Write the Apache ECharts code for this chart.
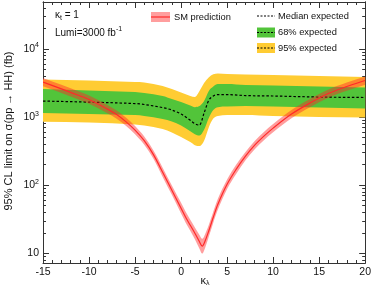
<!DOCTYPE html>
<html><head><meta charset="utf-8">
<script src="https://cdn.jsdelivr.net/npm/echarts@6/dist/echarts.min.js"></script>
<style>html,body{margin:0;padding:0;background:#fff}#c{width:374px;height:292px}</style>
</head><body><div id="c"></div>
<script>
const FONT = '"Liberation Sans", Arial, Helvetica, sans-serif';

// Expected limits (fb) vs kappa_lambda
const kl = [-15,-10,-5,-4,-2,-1,0,1,1.5,2,2.5,3,3.5,4,5,7,10,15,20];
const medianExp = [1720,1660,1580,1530,1380,1270,1110,900,800,763,1145,1750,2040,2140,2140,2070,2040,1970,1940];
const exp68Up   = [2580,2450,2330,2250,2040,1840,1660,1480,1400,1450,1720,2400,2810,3060,3060,2960,2900,2810,2720];
const exp68Dn   = [1145,1107,1070,1035,935,859,750,622,562,535,650,960,1270,1400,1426,1452,1426,1380,1334];
const exp95Up   = [3560,3440,3270,3220,2860,2580,2290,2040,1970,2410,3160,3810,4250,4360,4290,4210,4150,4010,3870];
const exp95Dn   = [853,830,776,750,667,592,508,429,387,375,450,700,950,1035,1070,1070,1035,1000,984];

// SM prediction (fb) vs kappa_lambda, with its uncertainty band
const klSM   = [-15,-13,-12,-10,-8,-7,-6,-5,-4,-3,-2,-1,0,0.5,1,1.5,2,2.3,2.6,3,3.5,4,5,6,7,8,9,10,12,14,16,18,20];
const smPred = [3270,2600,2310,1810,1310,1090,859,644,451,281,155,84.4,45.9,33.8,25.8,19.7,14.8,12.7,15.0,21.1,33.8,52.5,103,172,267,387,525,689,1107,1607,2216,2809,3443];
const smUp   = [3760,2990,2660,2080,1510,1250,988,741,519,323,181,98.7,55.1,40.6,31,24,18.6,16.3,18.9,25.7,40.6,63,121,201,307,445,604,792,1273,1848,2548,3230,3960];
const smDn   = [2840,2260,2010,1570,1140,948,747,560,392,244,132,72.1,38.3,28.2,21.5,16.1,11.7,9.9,11.9,17.3,28.2,43.8,88,147,232,337,457,599,963,1397,1927,2443,2994];

// Axis ticks
const yMajor = [10,100,1000,10000];
const yMinor = [8,9,20,30,40,50,60,70,80,90,200,300,400,500,600,700,800,900,2000,3000,4000,5000,6000,7000,8000,9000,20000,30000,40000];

const YELLOW = '#ffcc33', GREEN = '#52c43a', PINK = 'rgba(255,40,40,0.45)', RED = '#ff2a2a';
const AXC = '#333';

// monotone cubic (Fritsch-Carlson) path through pixel points
function curveCmds(P) {
  const n = P.length, s = [], m = [];
  for (let i = 0; i < n - 1; i++) s.push((P[i+1][1] - P[i][1]) / (P[i+1][0] - P[i][0]));
  for (let i = 0; i < n; i++) {
    if (i === 0) m.push(s[0]);
    else if (i === n - 1) m.push(s[n-2]);
    else if (s[i-1] * s[i] <= 0) m.push(0);
    else {
      let t = (P[i+1][1] - P[i-1][1]) / (P[i+1][0] - P[i-1][0]);
      const lim = 3 * Math.min(Math.abs(s[i-1]), Math.abs(s[i]));
      if (Math.abs(t) > lim) t = Math.sign(t) * lim;
      m.push(t);
    }
  }
  let d = '';
  for (let i = 0; i < n - 1; i++) {
    const h = P[i+1][0] - P[i][0];
    const c1 = [P[i][0] + h / 3, P[i][1] + m[i] * h / 3];
    const c2 = [P[i+1][0] - h / 3, P[i+1][1] - m[i+1] * h / 3];
    d += ' C' + c1[0].toFixed(2) + ' ' + c1[1].toFixed(2) + ' ' + c2[0].toFixed(2) + ' ' + c2[1].toFixed(2) + ' ' + P[i+1][0].toFixed(2) + ' ' + P[i+1][1].toFixed(2);
  }
  return d;
}
function bandSeries(xs, lo, hi, fill, z) {
  return {type: 'custom', z: z, silent: true, clip: true, data: xs.map((x, i) => [x, lo[i], hi[i]]),
    renderItem: (params, api) => {
      if (params.dataIndex !== 0) return null;
      const up = xs.map((x, i) => api.coord([x, hi[i]]));
      const dn = xs.map((x, i) => api.coord([x, lo[i]])).reverse();
      const d = 'M' + up[0][0] + ' ' + up[0][1] + curveCmds(up) + ' L' + dn[0][0] + ' ' + dn[0][1] + curveCmds(dn) + ' Z';
      return {type: 'path', shape: {pathData: d}, style: {fill: fill, stroke: null}};
    }};
}
function lineSeries(xs, ys, stroke, width, dash, z) {
  return {type: 'custom', z: z, silent: true, clip: true, data: xs.map((x, i) => [x, ys[i]]),
    renderItem: (params, api) => {
      if (params.dataIndex !== 0) return null;
      const P = xs.map((x, i) => api.coord([x, ys[i]]));
      const d = 'M' + P[0][0] + ' ' + P[0][1] + curveCmds(P);
      return {type: 'path', shape: {pathData: d}, style: {fill: null, stroke: stroke, lineWidth: width, lineDash: dash}};
    }};
}

const chart = echarts.init(document.getElementById('c'), null, {renderer: 'canvas'});
const xCommon = {type: 'value', min: -15, max: 20, interval: 5,
  axisLine: {show: true, onZero: false, lineStyle: {color: AXC, width: 1}},
  axisTick: {show: true, inside: true, length: 6, lineStyle: {color: AXC}},
  minorTick: {show: true, splitNumber: 5, length: 3, lineStyle: {color: AXC}},
  splitLine: {show: false}};
const yCommon = {type: 'log', min: 7.2, max: 49000,
  axisLine: {show: true, onZero: false, lineStyle: {color: AXC, width: 1}},
  splitLine: {show: false}, minorTick: {show: false}};

chart.setOption({
  animation: false,
  grid: {left: 43, right: 6, top: 2, bottom: 29, containLabel: false},
  xAxis: [
    Object.assign({}, xCommon, {position: 'bottom',
      axisLabel: {show: true, margin: 4, fontSize: 10.5, color: '#111', fontFamily: FONT}}),
    Object.assign({}, xCommon, {position: 'top', axisLabel: {show: false}})
  ],
  yAxis: [
    Object.assign({}, yCommon, {position: 'left',
      axisTick: {show: true, inside: true, length: 6, customValues: yMajor, lineStyle: {color: AXC}},
      axisLabel: {show: true, customValues: yMajor, margin: 4, fontSize: 10.5, color: '#111', fontFamily: FONT, lineHeight: 14,
        formatter: v => { const e = Math.round(Math.log10(v)); return e === 1 ? '10' : '10{s|' + e + '}'; },
        rich: {s: {fontSize: 7, verticalAlign: 'top', color: '#111', fontFamily: FONT}}}}),
    Object.assign({}, yCommon, {position: 'left',
      axisTick: {show: true, inside: true, length: 3, customValues: yMinor, lineStyle: {color: AXC}},
      axisLabel: {show: false}}),
    Object.assign({}, yCommon, {position: 'right',
      axisTick: {show: true, inside: true, length: 6, customValues: yMajor, lineStyle: {color: AXC}},
      axisLabel: {show: false}}),
    Object.assign({}, yCommon, {position: 'right',
      axisTick: {show: true, inside: true, length: 3, customValues: yMinor, lineStyle: {color: AXC}},
      axisLabel: {show: false}})
  ],
  series: [
    bandSeries(kl, exp95Dn, exp95Up, YELLOW, 1),
    bandSeries(kl, exp68Dn, exp68Up, GREEN, 2),
    lineSeries(kl, medianExp, '#000', 1.2, [2.5, 2], 3),
    bandSeries(klSM, smDn, smUp, PINK, 4),
    lineSeries(klSM, smPred, RED, 1.2, null, 5)
  ],
  graphic: [
    {type: 'text', x: 9, y: 131, rotation: Math.PI / 2,
      style: {text: '95% CL limit on σ(pp → HH) (fb)', font: '11px ' + FONT, fill: '#111', align: 'center', verticalAlign: 'middle'}},
    {type: 'text', x: 205, y: 281,
      style: {text: 'κ{s|λ}', font: '11px ' + FONT, fill: '#111', align: 'center', verticalAlign: 'middle',
        rich: {s: {fontSize: 7, verticalAlign: 'bottom', fill: '#111'}}}},
    {type: 'text', x: 55, y: 15,
      style: {text: 'κ{s|t}{n| = 1}', font: '10px ' + FONT, fill: '#111', align: 'left', verticalAlign: 'middle', lineHeight: 14,
        rich: {s: {fontSize: 7, verticalAlign: 'bottom'}, n: {fontSize: 10}}}},
    {type: 'text', x: 55, y: 33,
      style: {text: 'Lumi=3000 fb{s|-1}', font: '10px ' + FONT, fill: '#111', align: 'left', verticalAlign: 'middle', lineHeight: 14,
        rich: {s: {fontSize: 7, verticalAlign: 'top'}}}},
    // legend
    {type: 'rect', shape: {x: 151, y: 12, width: 19, height: 10}, style: {fill: PINK}},
    {type: 'line', shape: {x1: 151, y1: 17, x2: 170, y2: 17}, style: {stroke: RED, lineWidth: 1.2}},
    {type: 'text', x: 174, y: 17, style: {text: 'SM prediction', font: '9.3px ' + FONT, fill: '#111', align: 'left', verticalAlign: 'middle'}},
    {type: 'line', shape: {x1: 257, y1: 16, x2: 275, y2: 16}, style: {stroke: '#000', lineWidth: 1.2, lineDash: [2, 1.5]}},
    {type: 'text', x: 278, y: 16, style: {text: 'Median expected', font: '9.3px ' + FONT, fill: '#111', align: 'left', verticalAlign: 'middle'}},
    {type: 'rect', shape: {x: 257, y: 27.5, width: 18, height: 10}, style: {fill: GREEN}},
    {type: 'line', shape: {x1: 257, y1: 32.5, x2: 275, y2: 32.5}, style: {stroke: '#000', lineWidth: 1.1, lineDash: [2, 1.5]}},
    {type: 'text', x: 278, y: 32.5, style: {text: '68% expected', font: '9.3px ' + FONT, fill: '#111', align: 'left', verticalAlign: 'middle'}},
    {type: 'rect', shape: {x: 257, y: 43, width: 18, height: 10}, style: {fill: YELLOW}},
    {type: 'line', shape: {x1: 257, y1: 48, x2: 275, y2: 48}, style: {stroke: '#000', lineWidth: 1.1, lineDash: [2, 1.5]}},
    {type: 'text', x: 278, y: 48, style: {text: '95% expected', font: '9.3px ' + FONT, fill: '#111', align: 'left', verticalAlign: 'middle'}}
  ]
});
</script></body></html>
